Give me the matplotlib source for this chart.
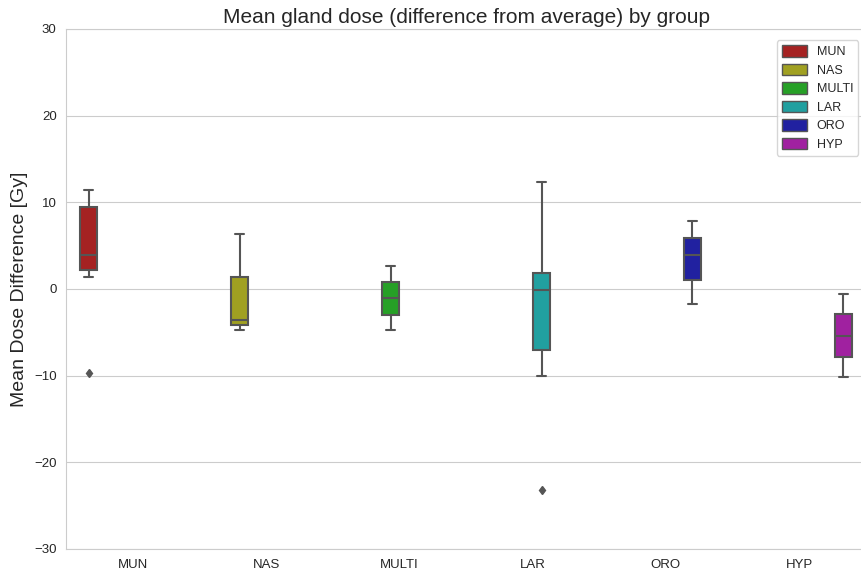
import numpy as np
import matplotlib
matplotlib.use("Agg")
import matplotlib.pyplot as plt
import matplotlib.patches as mpatches
import seaborn as sns

# groups and box summary values
groups = ['MUN', 'NAS', 'MULTI', 'LAR', 'ORO', 'HYP']
colors = ['#A52222', '#A0A021', '#26A026', '#21A0A0', '#2121A0', '#A021A0']
whis_lo = [1.4, -4.7, -4.7, -10.0, -1.7, -10.2]
q1 = [2.2, -4.1, -3.0, -7.0, 1.05, -7.9]
median = [3.9, -3.6, -1.0, -0.1, 3.9, -5.4]
q3 = [9.5, 1.35, 0.85, 1.9, 5.9, -2.9]
whis_hi = [11.4, 6.3, 2.7, 12.4, 7.85, -0.6]
fliers = [[-9.7], [], [], [-23.2], [], []]

sns.set_style("whitegrid")
plt.rcParams['font.family'] = ['Liberation Sans', 'DejaVu Sans']

fig = plt.figure(figsize=(8.61, 5.76), dpi=100)
ax = fig.add_axes([0.0771, 0.0469, 0.9283, 0.9028])

n = len(groups)
each = 0.8 / n
offsets = np.linspace(-0.4 + each / 2, 0.4 - each / 2, n)
line_col = '#555555'

for i, g in enumerate(groups):
    stats = [dict(med=median[i], q1=q1[i], q3=q3[i], whislo=whis_lo[i],
                  whishi=whis_hi[i], fliers=fliers[i], label=g)]
    ax.bxp(stats, positions=[i + offsets[i]], widths=each * 1.0,
           patch_artist=True, showfliers=True, manage_ticks=False,
           boxprops=dict(facecolor=colors[i], edgecolor=line_col, linewidth=1.5),
           medianprops=dict(color=line_col, linewidth=1.5),
           whiskerprops=dict(color=line_col, linewidth=1.5),
           capprops=dict(color=line_col, linewidth=1.5),
           flierprops=dict(marker='d', markerfacecolor=line_col,
                           markeredgecolor=line_col, markersize=4.5))

ax.set_xticks(range(n))
ax.set_xticklabels(groups)
ax.set_xlim(-0.5, n - 0.5)
ax.set_ylim(-30, 30)
ax.set_yticks([-30, -20, -10, 0, 10, 20, 30])
ax.set_yticklabels(['\u221230', '\u221220', '\u221210', '0', '10', '20', '30'])
ax.tick_params(labelsize=9.5, colors='#262626')
ax.xaxis.grid(False)
ax.set_ylabel('Mean Dose Difference [Gy]', fontsize=14, color='#262626')
ax.set_title('Mean gland dose (difference from average) by group', fontsize=15,
             color='#262626', pad=4)

handles = [mpatches.Patch(facecolor=c, edgecolor=line_col, label=g)
           for g, c in zip(groups, colors)]
ax.legend(handles=handles, loc='upper right', fontsize=9, frameon=True,
          handleheight=1.0, labelspacing=0.45,
          bbox_to_anchor=(0.9985, 0.99))

fig.savefig('out.png', dpi=100)
